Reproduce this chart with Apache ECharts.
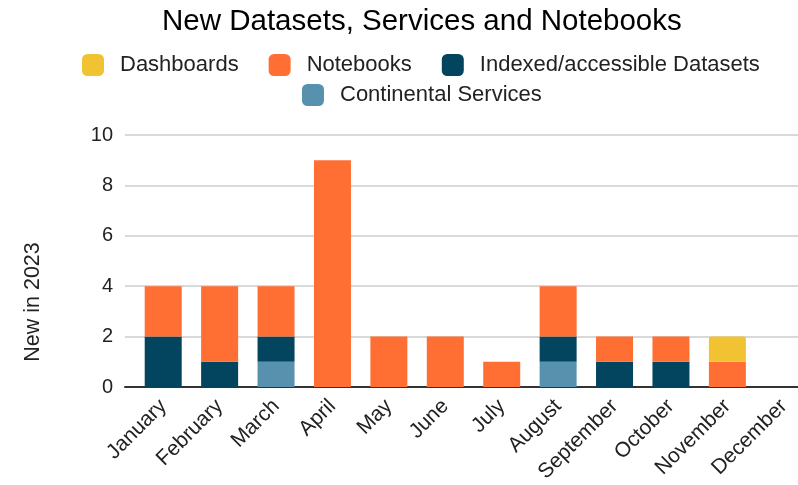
<!DOCTYPE html>
<html>
<head>
<meta charset="utf-8">
<script src="https://cdn.jsdelivr.net/npm/echarts@6/dist/echarts.min.js"></script>
<style>html,body{margin:0;padding:0;background:#fff}#c{width:798px;height:485px}</style>
</head>
<body>
<div id="c"></div>
<script>
var months = ['January','February','March','April','May','June','July','August','September','October','November','December'];
var continental = [0,0,1,0,0,0,0,1,0,0,0,0];
var indexed =     [2,1,1,0,0,0,0,1,1,1,0,0];
var notebooks =   [2,3,2,9,2,2,1,2,1,1,1,0];
var dashboards =  [0,0,0,0,0,0,0,0,0,0,1,0];
var yTicks = [0,2,4,6,8,10];

var FONT = '"Liberation Sans", Arial, sans-serif';
var chart = echarts.init(document.getElementById('c'), null, {renderer:'canvas'});
function bar(name, data, color, top) {
  return {
    name: name, type: 'bar', stack: 'total', data: data,
    xAxisIndex: 0, yAxisIndex: 0, barWidth: 37,
    itemStyle: {color: color, borderRadius: top ? [3,3,0,0] : 0},
    emphasis: {disabled: true}
  };
}
chart.setOption({
  animation: false,
  textStyle: {fontFamily: FONT},
  title: {
    text: 'New Datasets, Services and Notebooks',
    left: 162, top: 7, padding: 0,
    textStyle: {fontFamily: FONT, fontSize: 29.5, fontWeight: 'normal', color: '#000'}
  },
  legend: [
    {
      data: ['Dashboards','Notebooks','Indexed/accessible Datasets'],
      left: 82, top: 54, padding: 0, itemWidth: 22, itemHeight: 22, itemGap: 30,
      icon: 'roundRect',
      textStyle: {fontFamily: FONT, fontSize: 22, color: '#222', padding: [0,0,0,11]}
    },
    {
      data: ['Continental Services'],
      left: 302, top: 84, padding: 0, itemWidth: 22, itemHeight: 22,
      icon: 'roundRect',
      textStyle: {fontFamily: FONT, fontSize: 22, color: '#222', padding: [0,0,0,11]}
    }
  ],
  graphic: [{
    type: 'text', x: 33, y: 302, rotation: Math.PI / 2,
    style: {text: 'New in 2023', fontFamily: FONT, fontSize: 21.5, fill: '#222', align: 'center', verticalAlign: 'middle'}
  }],
  grid: [
    {left: 135, right: -14, top: 135, bottom: 98, outerBoundsMode: 'none', containLabel: false},
    {left: 125, right: 0, top: 135, bottom: 98, outerBoundsMode: 'none'}
  ],
  xAxis: [
    {
      type: 'category', data: months, gridIndex: 0,
      axisLine: {show: false}, axisTick: {show: false},
      axisLabel: {rotate: 45, fontFamily: FONT, fontSize: 21, color: '#222', margin: 16, interval: 0}
    },
    {
      type: 'value', gridIndex: 1, min: 0, max: 1,
      axisLine: {show: true, onZero: false, lineStyle: {color: '#333', width: 2}},
      axisTick: {show: false}, axisLabel: {show: false}, splitLine: {show: false}
    }
  ],
  yAxis: [
    {
      type: 'value', gridIndex: 0, min: 0, max: 10, interval: 2,
      axisLine: {show: false}, axisTick: {show: false},
      axisLabel: {show: false}, splitLine: {show: false}
    },
    {
      type: 'value', gridIndex: 1, min: yTicks[0], max: yTicks[yTicks.length-1], interval: 2,
      axisLine: {show: false}, axisTick: {show: false},
      axisLabel: {fontFamily: FONT, fontSize: 20, color: '#222', margin: 12},
      splitLine: {show: true, lineStyle: {color: '#cccccc', width: 1.5}}
    }
  ],
  series: [
    bar('Continental Services', continental, '#5891AE', false),
    bar('Indexed/accessible Datasets', indexed, '#03445F', false),
    bar('Notebooks', notebooks, '#FF6E33', false),
    bar('Dashboards', dashboards, '#F1C232', true)
  ]
});
</script>
</body>
</html>
